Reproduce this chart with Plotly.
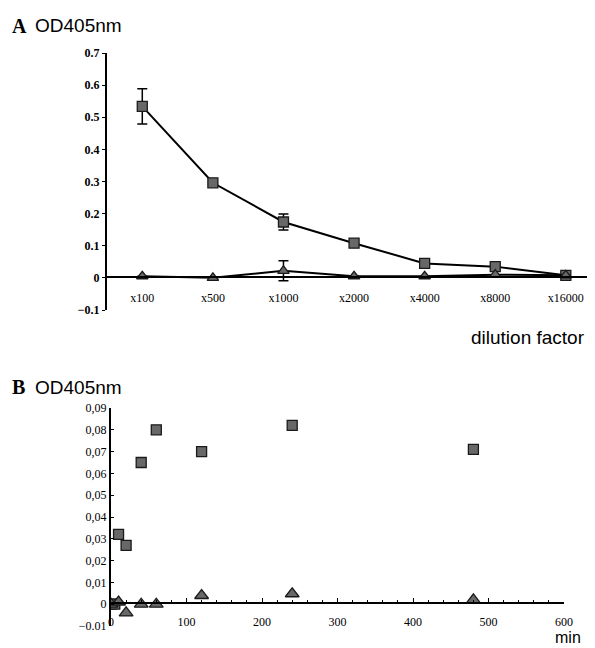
import plotly.graph_objects as go

# Panel A data
dilutions = ["x100", "x500", "x1000", "x2000", "x4000", "x8000", "x16000"]
sq_a = [0.534, 0.296, 0.174, 0.108, 0.045, 0.035, 0.008]
sq_a_err = [0.055, 0.0, 0.025, 0.0, 0.0, 0.008, 0.0]
tri_a = [0.005, 0.0, 0.022, 0.005, 0.005, 0.01, 0.008]
tri_a_err = [0.0, 0.0, 0.031, 0.0, 0.0, 0.0, 0.0]
a_yticks = [-0.1, 0, 0.1, 0.2, 0.3, 0.4, 0.5, 0.6, 0.7]
a_yticktext = ["\u22120.1", "0", "0.1", "0.2", "0.3", "0.4", "0.5", "0.6", "0.7"]

# Panel B data
t_sq = [0, 5, 10, 20, 40, 60, 120, 240, 480]
sq_b = [0.0, 0.0, 0.032, 0.027, 0.065, 0.080, 0.070, 0.082, 0.071]
t_tri = [0, 10, 20, 40, 60, 120, 240, 480]
tri_b = [0.0, 0.001, -0.004, 0.0, 0.0, 0.004, 0.0048, 0.002]
b_yticks = [-0.01, 0, 0.01, 0.02, 0.03, 0.04, 0.05, 0.06, 0.07, 0.08, 0.09]
b_yticktext = ["\u22120.01", "0", "0,01", "0,02", "0,03", "0,04", "0,05", "0,06", "0,07", "0,08", "0,09"]
b_xticks = [0, 100, 200, 300, 400, 500, 600]

# page has an 8px body margin: keep the figure inside the visible window
OFF = 8
W, H = 595 - 2 * OFF, 648 - OFF
def py(p):
    return 1 - (p - OFF) / H
def px(p):
    return (p - OFF) / W

mfill = "#686868"
mline = dict(color="#1a1a1a", width=1.3)
serif = "Liberation Serif"
sans = "Liberation Sans"

fig = go.Figure()
xa = list(range(len(dilutions)))
fig.add_trace(go.Scatter(x=xa, y=sq_a, mode="lines+markers",
    line=dict(color="black", width=2),
    marker=dict(symbol="square", size=10, color=mfill, line=mline),
    error_y=dict(type="data", array=sq_a_err, color="black", thickness=1.5, width=5),
    xaxis="x", yaxis="y", showlegend=False))
fig.add_trace(go.Scatter(x=xa, y=tri_a, mode="lines+markers",
    line=dict(color="black", width=2),
    marker=dict(symbol="triangle-up", size=10, color=mfill, line=mline),
    error_y=dict(type="data", array=tri_a_err, color="black", thickness=1.5, width=5),
    xaxis="x", yaxis="y", showlegend=False))

fig.add_trace(go.Scatter(x=t_sq, y=sq_b, mode="markers",
    marker=dict(symbol="square", size=10, color=mfill, line=mline),
    xaxis="x2", yaxis="y2", showlegend=False))
fig.add_trace(go.Scatter(x=t_tri, y=tri_b, mode="markers",
    marker=dict(symbol="triangle-up", size=12, color=mfill, line=mline),
    xaxis="x2", yaxis="y2", showlegend=False))

fig.update_layout(
    width=W, height=H, margin=dict(l=0, r=0, t=0, b=0, autoexpand=False),
    paper_bgcolor="white", plot_bgcolor="white",
    xaxis=dict(domain=[px(107), 1.0], range=[-0.5, 6.3], anchor="free",
               position=py(277), tickvals=xa, ticktext=dilutions,
               showline=True, linecolor="black", linewidth=1.5,
               ticks="", showgrid=False, zeroline=False, automargin=False,
               ticklabeloverflow="allow",
               tickfont=dict(family=serif, size=12, color="black"),
               ticklabelstandoff=10),
    yaxis=dict(domain=[py(310), py(53)], range=[-0.1, 0.7], anchor="x",
               tickvals=a_yticks, ticktext=a_yticktext,
               showline=True, linecolor="black", linewidth=2,
               ticks="outside", ticklen=3, tickcolor="black",
               showgrid=False, zeroline=False, automargin=False,
               tickfont=dict(family=serif, size=12, color="black", weight="bold")),
    xaxis2=dict(domain=[px(111), px(564)], range=[0, 600], anchor="free",
                position=py(603), tickvals=b_xticks,
                showline=True, linecolor="black", linewidth=2,
                ticks="inside", ticklen=4, tickcolor="black",
                minor=dict(dtick=20, ticks="inside", ticklen=2, tickcolor="black"),
                showgrid=False, zeroline=False, automargin=False,
                tickfont=dict(family=serif, size=12, color="black"),
                ticklabelstandoff=8),
    yaxis2=dict(domain=[py(626), py(408)], range=[-0.01, 0.09], anchor="x2",
                tickvals=b_yticks, ticktext=b_yticktext,
                showline=True, linecolor="black", linewidth=2,
                ticks="inside", ticklen=3, tickcolor="black",
                showgrid=False, zeroline=False, automargin=False,
                tickfont=dict(family=serif, size=12, color="black")),
)

anns = [
    dict(text="<b>A</b>", x=px(10), y=py(26), xanchor="left", font=dict(family=serif, size=20)),
    dict(text="OD405nm", x=px(33), y=py(26), xanchor="left", font=dict(family=sans, size=19)),
    dict(text="dilution factor", x=1.0, y=py(337), xanchor="right", font=dict(family=sans, size=19)),
    dict(text="<b>B</b>", x=px(10), y=py(387), xanchor="left", font=dict(family=serif, size=20)),
    dict(text="OD405nm", x=px(33), y=py(387), xanchor="left", font=dict(family=sans, size=19)),
    dict(text="min", x=px(568), y=0.0, yanchor="bottom", xanchor="center", font=dict(family=sans, size=16)),
]
for a in anns:
    a.setdefault("yanchor", "middle")
    a.update(xref="paper", yref="paper", showarrow=False)
    a["font"]["color"] = "black"
    fig.add_annotation(**a)

fig.write_html("out.html")
